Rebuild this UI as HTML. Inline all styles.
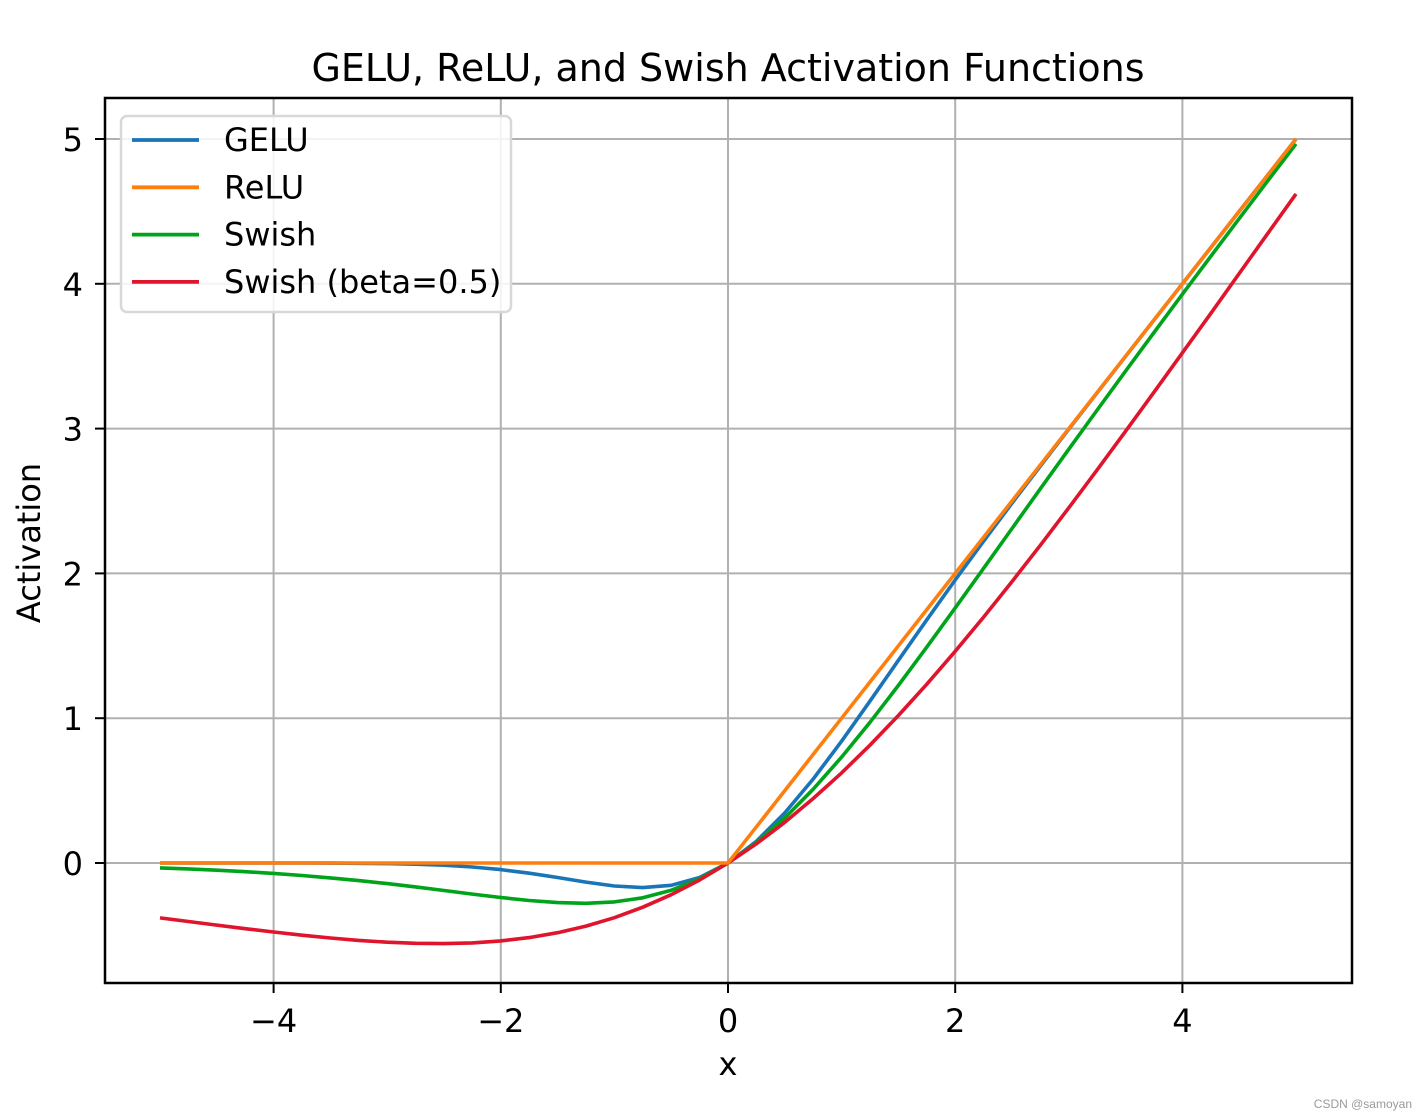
<!DOCTYPE html>
<html><head><meta charset="utf-8"><style>
html,body{margin:0;padding:0;background:#fff;}
svg{display:block;font-family:"DejaVu Sans","Liberation Sans",sans-serif;}
</style></head><body>
<svg id="chart" width="1428" height="1120" viewBox="0 0 1428 1120">
<rect width="1428" height="1120" fill="#fff"/>
<text x="728" y="81" font-size="38" text-anchor="middle" fill="#000">GELU, ReLU, and Swish Activation Functions</text>
<g id="grid"></g>
<g id="series"></g>
<rect x="105" y="98" width="1247" height="885" fill="none" stroke="#000" stroke-width="2.5"/>
<g id="ticks"></g>
<text x="728" y="1075" font-size="32" text-anchor="middle">x</text>
<text transform="translate(40,543) rotate(-90)" font-size="32" text-anchor="middle">Activation</text>
<g id="legend">
<rect x="121" y="116" width="390" height="196" rx="6" fill="#fff" fill-opacity="0.85" stroke="#d8d8d8" stroke-width="2.5"/>
</g>
<text x="1412" y="1108" font-size="12" text-anchor="end" fill="#999" font-family="Liberation Sans, sans-serif">CSDN @samoyan</text>
</svg>
<script>
const xValues = [-5,-4.75,-4.5,-4.25,-4,-3.75,-3.5,-3.25,-3,-2.75,-2.5,-2.25,-2,-1.75,-1.5,-1.25,-1,-0.75,-0.5,-0.25,0,0.25,0.5,0.75,1,1.25,1.5,1.75,2,2.25,2.5,2.75,3,3.25,3.5,3.75,4,4.25,4.5,4.75,5];
const geluValues = [0,0,0,0,-0.0001,-0.0003,-0.0008,-0.0019,-0.004,-0.0082,-0.0155,-0.0275,-0.0455,-0.0701,-0.1002,-0.1321,-0.1587,-0.17,-0.1543,-0.1003,0,0.1497,0.3457,0.58,0.8413,1.1179,1.3998,1.6799,1.9545,2.2225,2.4845,2.7418,2.996,3.2481,3.4992,3.7497,3.9999,4.25,4.5,4.75,5];
const reluValues = [0,0,0,0,0,0,0,0,0,0,0,0,0,0,0,0,0,0,0,0,0,0.25,0.5,0.75,1,1.25,1.5,1.75,2,2.25,2.5,2.75,3,3.25,3.5,3.75,4,4.25,4.5,4.75,5];
const swishValues = [-0.0335,-0.0408,-0.0495,-0.0598,-0.0719,-0.0862,-0.1026,-0.1213,-0.1423,-0.1653,-0.1897,-0.2145,-0.2384,-0.259,-0.2736,-0.2784,-0.2689,-0.2406,-0.1888,-0.1094,0,0.1406,0.3112,0.5094,0.7311,0.9716,1.2264,1.491,1.7616,2.0355,2.3103,2.5847,2.8577,3.1287,3.3974,3.6638,3.9281,4.1902,4.4505,4.7092,4.9665];
const swishHalfValues = [-0.3793,-0.4042,-0.4289,-0.4535,-0.4768,-0.4988,-0.518,-0.5346,-0.5472,-0.5547,-0.5568,-0.5515,-0.5378,-0.5149,-0.4812,-0.4358,-0.3775,-0.3055,-0.2189,-0.1172,0,0.1328,0.2811,0.4451,0.6225,0.8142,1.0185,1.235,1.4622,1.6985,1.9432,2.1949,2.4528,2.7154,2.982,3.2511,3.5232,3.7958,4.0711,4.3458,4.6207];
const xTicks = [-4,-2,0,2,4];
const xTickLabels = ["\u22124","\u22122","0","2","4"];
const yTicks = [0,1,2,3,4,5];
const yTickLabels = ["0","1","2","3","4","5"];
const seriesNames = ["GELU","ReLU","Swish","Swish (beta=0.5)"];

const NS = "http://www.w3.org/2000/svg";
const X0 = 728, XS = 113.6, Y0 = 863, YS = 144.8;
function sx(v){return X0 + v*XS;}
function sy(v){return Y0 - v*YS;}
function mk(tag, attrs, parent){const e=document.createElementNS(NS,tag);for(const k in attrs)e.setAttribute(k,attrs[k]);parent.appendChild(e);return e;}

const grid=document.getElementById('grid'), ticks=document.getElementById('ticks'), series=document.getElementById('series'), legend=document.getElementById('legend');
xTicks.forEach((t,i)=>{
  const g=mk('line',{x1:sx(t),x2:sx(t),y1:98,y2:983,stroke:'#b0b0b0','stroke-width':2},grid);
  
  
  const tk=mk('line',{x1:sx(t),x2:sx(t),y1:983,y2:993,stroke:'#000','stroke-width':2},ticks);
  
  
  const lb=mk('text',{x:sx(t),y:1032,'font-size':32,'text-anchor':'middle'},ticks);
  lb.textContent=xTickLabels[i];
  
  
});
yTicks.forEach((t,i)=>{
  const g=mk('line',{x1:105,x2:1352,y1:sy(t),y2:sy(t),stroke:'#b0b0b0','stroke-width':2},grid);
  
  
  const tk=mk('line',{x1:95,x2:105,y1:sy(t),y2:sy(t),stroke:'#000','stroke-width':2},ticks);
  
  
  const lb=mk('text',{x:83,y:sy(t)+12,'font-size':32,'text-anchor':'end'},ticks);
  lb.textContent=yTickLabels[i];
  
  
});
const allSeries=[geluValues,reluValues,swishValues,swishHalfValues];
const colors=['#1a75b8','#ff7f0e','#00a41a','#e0142c'];
const order=[0,2,3,1];
order.forEach(si=>{
  const vals=allSeries[si];
  const d=xValues.map((x,i)=>(i?'L':'M')+sx(x).toFixed(1)+','+sy(vals[i]).toFixed(1)).join(' ');
  const p=mk('path',{d:d,fill:'none',stroke:colors[si],'stroke-width':3.6,'stroke-linejoin':'round'},series);
  
  
});
seriesNames.forEach((n,i)=>{
  const y=140+i*47.3;
  const l=mk('line',{x1:132,x2:199,y1:y,y2:y,stroke:colors[i],'stroke-width':3.8},legend);
  
  
  const t=mk('text',{x:224,y:y+11,'font-size':32},legend);
  t.textContent=n;
  
  
});
</script>
</body></html>
